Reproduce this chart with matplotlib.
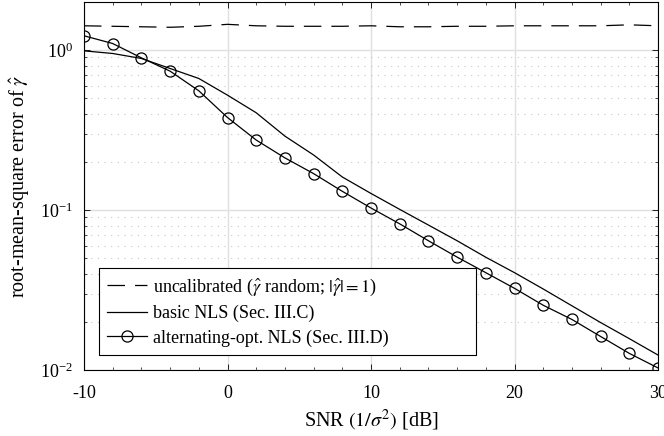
import numpy as np
import matplotlib
matplotlib.use("Agg")
import matplotlib.pyplot as plt
from matplotlib.ticker import LogLocator, NullFormatter, MultipleLocator

# SNR grid in dB
snr_db = [-10, -8, -6, -4, -2, 0, 2, 4, 6, 8, 10, 12, 14, 16, 18, 20, 22, 24, 26, 28, 30]

# RMSE values
rmse_uncal = [1.42, 1.41, 1.40, 1.39, 1.41, 1.45, 1.42, 1.41, 1.41, 1.41, 1.42,
              1.40, 1.40, 1.41, 1.41, 1.42, 1.42, 1.42, 1.42, 1.44, 1.42]
rmse_basic = [0.99, 0.953, 0.887, 0.768, 0.665, 0.523, 0.406, 0.290, 0.221, 0.161, 0.127,
              0.101, 0.0806, 0.0643, 0.0507, 0.0406, 0.0321, 0.0252, 0.0198, 0.0157, 0.0124]
rmse_alt = [1.23, 1.10, 0.895, 0.739, 0.557, 0.379, 0.274, 0.212, 0.169, 0.131, 0.103,
            0.0820, 0.0643, 0.0508, 0.0406, 0.0324, 0.0254, 0.0207, 0.0162, 0.0127, 0.0103]

xtick_vals = [-10, 0, 10, 20, 30]
xtick_labels = ["-10", "0", "10", "20", "30"]

plt.rcParams['font.family'] = ['Liberation Serif', 'DejaVu Serif']
plt.rcParams['mathtext.fontset'] = 'stix'

fig = plt.figure(figsize=(6.64, 4.36), dpi=100)
ax = fig.add_axes([0.1265, 0.1514, 0.8645, 0.844])

ax.plot(snr_db, rmse_uncal, color="black", linewidth=0.9, dashes=(14, 8),
        label=r"uncalibrated ($\hat{\gamma}$ random; $|\hat{\gamma}| = 1$)")
ax.plot(snr_db, rmse_basic, color="black", linewidth=0.9, label="basic NLS (Sec. III.C)")
ax.plot(snr_db, rmse_alt, color="black", linewidth=0.9, marker="o", markersize=8,
        markerfacecolor="none", markeredgewidth=0.9, label="alternating-opt. NLS (Sec. III.D)")

ax.set_yscale("log")
ax.set_xlim(-10, 30)
ax.set_ylim(0.01, 2.0)
ax.set_xticks(xtick_vals)
ax.set_xticklabels(xtick_labels)
ax.xaxis.set_minor_locator(MultipleLocator(2))
ax.yaxis.set_major_locator(LogLocator(base=10, numticks=10))
ax.yaxis.set_minor_locator(LogLocator(base=10, subs=np.arange(2, 10), numticks=10))
ax.yaxis.set_minor_formatter(NullFormatter())

# MATLAB-like grid
ax.grid(True, which="major", color="#e0e0e0", linewidth=1.0, linestyle="-")
ax.grid(True, which="minor", axis="y", color="#c4c4c4", linewidth=0.8, linestyle=(0, (1, 5)))
ax.set_axisbelow(True)

ax.tick_params(which="both", direction="in", top=True, right=True, labelsize=13)
ax.tick_params(axis="x", which="major", pad=11)
ax.tick_params(axis="y", which="major", pad=8)
ax.tick_params(which="major", length=4, width=0.6)
ax.tick_params(which="minor", length=2, width=0.5)
for s in ax.spines.values():
    s.set_linewidth(0.8)

ax.set_xlabel(r"SNR $(1/\sigma^2)$ [dB]", fontsize=14.5, labelpad=4)
ax.set_ylabel(r"root-mean-square error of $\hat{\gamma}$", fontsize=14.5, labelpad=6)

leg = ax.legend(loc="lower left", bbox_to_anchor=(0.026, 0.041, 0.657, 0.2), mode="expand",
                borderaxespad=0, fontsize=13, handlelength=2.2, handletextpad=0.35,
                borderpad=0.45, labelspacing=0.4, fancybox=False,
                framealpha=1, edgecolor="black")
leg.get_frame().set_linewidth(0.8)

fig.savefig("out.png", dpi=100)
